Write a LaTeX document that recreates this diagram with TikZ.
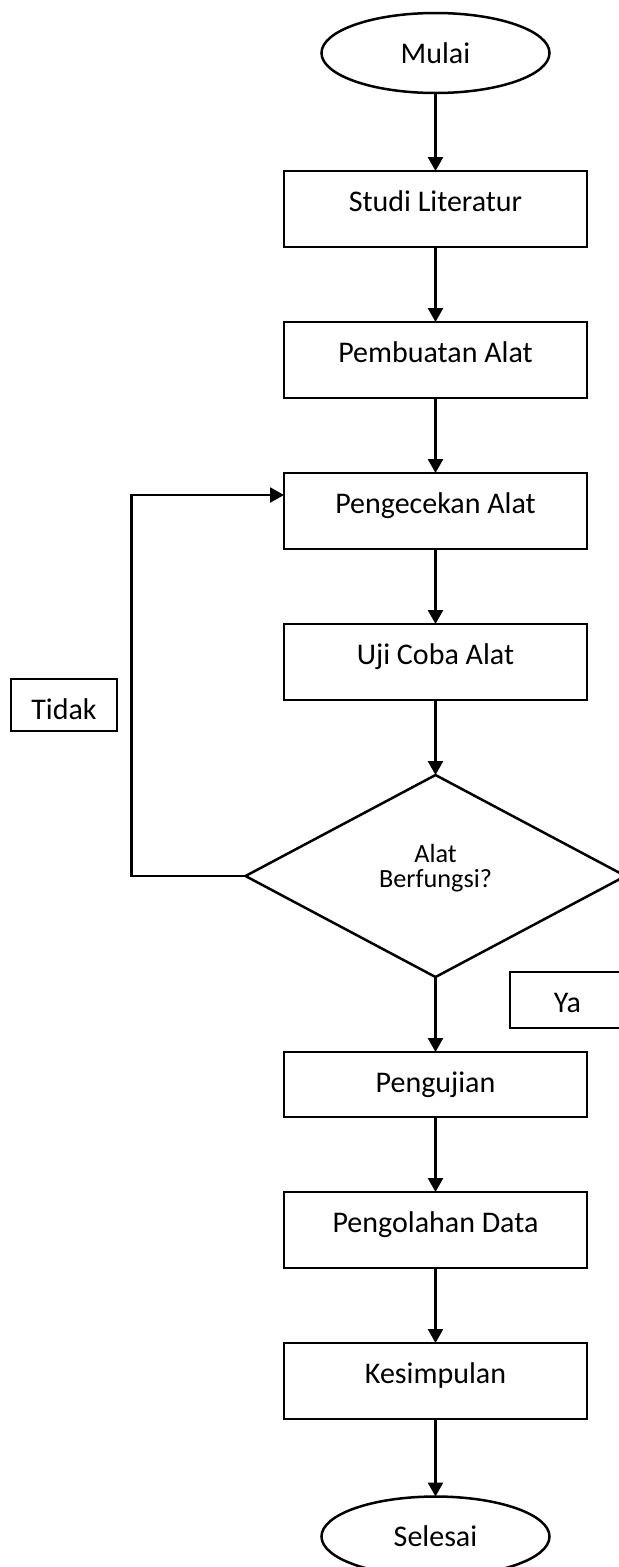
\documentclass[tikz,border=0pt]{standalone}
\usepackage{fontspec}
\setmainfont{Carlito}
\usepackage{tikz}
\usetikzlibrary{positioning,arrows.meta,shapes.geometric}

\begin{document}
\begin{tikzpicture}[
    x=0.4pt, y=-0.4pt,
    font=\fontsize{12}{14}\selectfont,
    node distance=30pt,
    every node/.style={outer sep=0pt},
    terminal/.style={ellipse, draw, line width=1pt, minimum width=91.2pt, minimum height=32pt, inner sep=0pt},
    stepbox/.style={rectangle, draw, line width=1pt, minimum width=121.2pt, inner xsep=0pt, inner ysep=0pt,
      text height=16pt, text depth=14.4pt},
    decision/.style={diamond, draw, line width=1pt, minimum width=152pt, minimum height=80.8pt, aspect=1.88,
      inner sep=0pt, align=center, font=\fontsize{10.5}{10.2}\selectfont, text depth=8pt},
    answer/.style={rectangle, draw, line width=1pt, inner sep=0pt, text height=16pt, anchor=north west},
    arr/.style={-{Triangle[length=5.6pt,width=6pt]}, line width=1pt}
  ]
    \useasboundingbox (0,0) rectangle (619,1567);
    \clip (0,0) rectangle (619,1567);

    \node[terminal] (mulai) at (435.5,53) {Mulai};
    \node[stepbox, below=31.2pt of mulai] (studi) {Studi Literatur};
    \node[stepbox, below=of studi] (buat) {Pembuatan Alat};
    \node[stepbox, below=of buat] (cek) {Pengecekan Alat};
    \node[stepbox, below=of cek] (uji) {Uji Coba Alat};
    \node[decision, below=of uji] (fungsi) {Alat\\Berfungsi?};
    \node[stepbox, text depth=10pt, below=of fungsi] (pengujian) {Pengujian};
    \node[stepbox, below=of pengujian] (olah) {Pengolahan Data};
    \node[stepbox, below=of olah] (simpul) {Kesimpulan};
    \node[terminal, below=31pt of simpul] (selesai) {Selesai};

    % label jawaban
    \node[answer, minimum width=42.4pt, text depth=4.8pt] (tidak) at (11,679) {Tidak};
    \node[answer, minimum width=46pt, text depth=6.4pt] (ya) at (510,972) {Ya};

    \draw[arr] (mulai) -- (studi);
    \draw[arr] (studi) -- (buat);
    \draw[arr] (buat) -- (cek);
    \draw[arr] (cek) -- (uji);
    \draw[arr] (uji) -- (fungsi);
    \draw[arr] (fungsi) -- (pengujian);
    \draw[arr] (pengujian) -- (olah);
    \draw[arr] (olah) -- (simpul);
    \draw[arr] (simpul) -- (selesai);
    \draw[arr] (fungsi.west) -- ++(-45.6pt,0) |- ([yshift=-8.8pt]cek.north west);
  \end{tikzpicture}
\end{document}
